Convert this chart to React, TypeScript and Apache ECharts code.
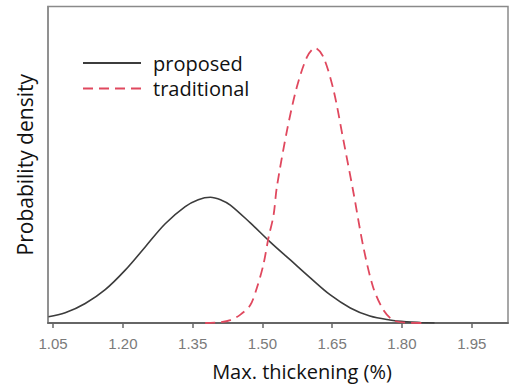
import React, { useEffect, useRef } from "react";
import * as echarts from "echarts";

const tickValues = [1.05, 1.2, 1.35, 1.5, 1.65, 1.8, 1.95];

const proposedX = [1.04, 1.076, 1.119, 1.162, 1.205, 1.248, 1.291, 1.334, 1.362, 1.388, 1.412, 1.431, 1.474, 1.517, 1.56, 1.603, 1.646, 1.689, 1.731, 1.774, 1.81, 1.84, 1.87];
const proposedY = [0.155, 0.25, 0.48, 0.82, 1.3, 1.87, 2.44, 2.86, 3.03, 3.09, 3.02, 2.9, 2.46, 1.99, 1.55, 1.11, 0.69, 0.37, 0.17, 0.074, 0.03, 0.012, 0.0];

const traditionalX = [1.377, 1.41, 1.431, 1.452, 1.474, 1.488, 1.502, 1.513, 1.524, 1.531, 1.553, 1.574, 1.596, 1.613, 1.631, 1.653, 1.674, 1.696, 1.717, 1.738, 1.76, 1.781, 1.807, 1.85];
const traditionalY = [0.0, 0.02, 0.07, 0.2, 0.44, 0.86, 1.43, 2.09, 2.65, 3.34, 4.74, 5.8, 6.54, 6.76, 6.54, 5.72, 4.5, 3.19, 1.87, 0.88, 0.32, 0.07, 0.01, 0.0];

const FONT = "'Open Sans', 'Noto Sans', sans-serif";

export default function App() {
  const ref = useRef<HTMLDivElement>(null);
  useEffect(() => {
    if (!ref.current) return;
    const chart = echarts.init(ref.current, null, { renderer: "svg" });
    chart.setOption({
      animation: false,
      backgroundColor: "#ffffff",
      grid: {
        left: 48,
        right: 5,
        top: 6.5,
        bottom: 66,
        show: true,
        borderColor: "#8a8a8a",
        borderWidth: 1.5,
        backgroundColor: "transparent",
      },
      legend: {
        orient: "vertical",
        left: 77,
        top: 47,
        itemWidth: 58,
        itemHeight: 14,
        itemGap: 3.5,
        itemStyle: { opacity: 0 },
        textStyle: {
          fontFamily: FONT,
          fontSize: 20,
          color: "#111",
          lineHeight: 22,
          padding: [0, 0, 0, 7],
        },
        data: ["proposed", "traditional"],
      },
      xAxis: {
        type: "value",
        min: 1.039,
        max: 2.028,
        name: "Max. thickening (%)",
        nameLocation: "middle",
        nameGap: 38,
        nameTextStyle: {
          fontFamily: FONT,
          fontSize: 20,
          color: "#111",
          padding: [0, 0, 0, 48],
        },
        axisLine: { show: true, lineStyle: { color: "#666", width: 1.8 } },
        axisTick: {
          show: true,
          inside: false,
          length: 5,
          customValues: tickValues,
          lineStyle: { color: "#666", width: 1.5 },
        },
        axisLabel: {
          customValues: tickValues,
          formatter: (v: number) => v.toFixed(2),
          fontFamily: "'Liberation Sans', Arial, sans-serif",
          fontSize: 15,
          color: "#7a7a7a",
          margin: 13,
        },
        splitLine: { show: false },
      },
      yAxis: {
        type: "value",
        min: 0,
        max: 7.78,
        name: "Probability density",
        nameLocation: "middle",
        nameGap: 13,
        nameRotate: 90,
        nameTextStyle: { fontFamily: FONT, fontSize: 21, color: "#111" },
        axisLine: { show: true, lineStyle: { color: "#8a8a8a", width: 1.5 } },
        axisTick: { show: false },
        axisLabel: { show: false },
        splitLine: { show: false },
      },
      series: [
        {
          name: "proposed",
          type: "line",
          data: proposedX.map((x, i) => [x, proposedY[i]]),
          smooth: 0.35,
          symbol: "none",
          lineStyle: { color: "#3c3c3c", width: 1.6 },
          itemStyle: { color: "#3c3c3c" },
        },
        {
          name: "traditional",
          type: "line",
          data: traditionalX.map((x, i) => [x, traditionalY[i]]),
          smooth: 0.3,
          symbol: "none",
          lineStyle: { color: "#e0485e", width: 1.8, type: [10, 6] },
          itemStyle: { color: "#e0485e" },
        },
      ],
    });
    return () => chart.dispose();
  }, []);
  return <div ref={ref} style={{ width: 513, height: 389, position: "absolute", left: 0, top: 0 }} />;
}
